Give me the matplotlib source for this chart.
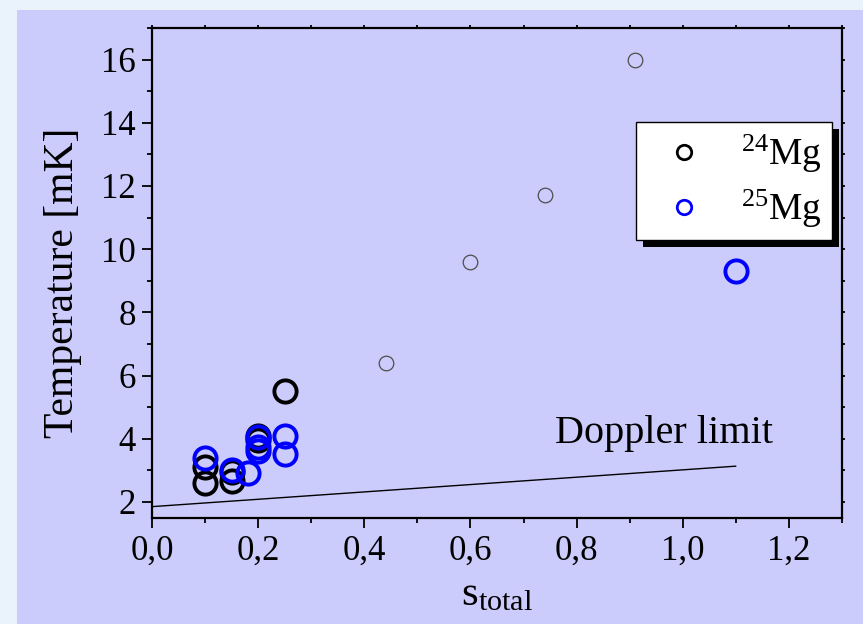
import matplotlib
matplotlib.use("Agg")
import matplotlib.pyplot as plt
import matplotlib.patches as mpatches
from matplotlib.ticker import MultipleLocator, FuncFormatter

plt.rcParams['font.family'] = ['Liberation Serif', 'DejaVu Serif']
plt.rcParams['mathtext.fontset'] = 'custom'
plt.rcParams['mathtext.rm'] = 'Liberation Serif'

# 24Mg, big circles
s24 = [0.10, 0.10, 0.15, 0.15, 0.20, 0.20, 0.25]
T24 = [2.6, 3.1, 2.65, 2.95, 4.1, 3.95, 5.5]
# 25Mg, big blue circles
s25 = [0.10, 0.15, 0.18, 0.20, 0.20, 0.20, 0.25, 0.25, 1.10]
T25 = [3.4, 3.0, 2.9, 4.05, 3.75, 3.6, 4.1, 3.5, 9.3]
# thin grey circles
s_thin = [0.44, 0.60, 0.74, 0.91]
T_thin = [6.4, 9.6, 11.7, 16.0]
# Doppler limit line
s_dop = [0.0, 1.1]
T_dop = [1.85, 3.13]

lav = '#ccccfc'
fig = plt.figure(figsize=(8.63, 6.24), dpi=100, facecolor='#eaf3fc')
fig.patches.append(mpatches.Rectangle((17/863, 0), 1, (624-10)/624, transform=fig.transFigure,
                                      facecolor=lav, edgecolor='none', zorder=-10))
ax = fig.add_axes([0.1765, 0.1704, 0.7988, 0.7847])
ax.set_facecolor(lav)

ax.plot(s_dop, T_dop, color='black', lw=1.0)
ax.plot(s_thin, T_thin, 'o', ms=10.5, mfc='none', mec='#4d4d4d', mew=0.9)
ax.plot(s24, T24, 'o', ms=16, mfc='none', mec='black', mew=2.8, label=r'$\mathregular{^{24}Mg}$')
ax.plot(s25, T25, 'o', ms=16, mfc='none', mec='#0000ff', mew=2.8, label=r'$\mathregular{^{25}Mg}$')

ax.text(0.76, 3.85, 'Doppler limit', fontsize=29, ha='left', va='baseline')

ax.set_xlim(0, 1.3)
ax.set_ylim(1.5, 17)
ax.xaxis.set_major_locator(MultipleLocator(0.2))
ax.xaxis.set_minor_locator(MultipleLocator(0.1))
ax.yaxis.set_major_locator(MultipleLocator(2))
ax.yaxis.set_minor_locator(MultipleLocator(1))
ax.xaxis.set_major_formatter(FuncFormatter(lambda v, p: f'{v:.1f}'.replace('.', ',')))
ax.tick_params(which='major', direction='out', length=7, width=1.3, labelsize=25, pad=5)
ax.tick_params(which='minor', direction='out', length=3.5, width=1.3)
ax.tick_params(which='both', top=True, right=True)
for sp in ax.spines.values():
    sp.set_linewidth(1.6)
# tiny marks on the top and right spines
for t in ax.xaxis.get_major_ticks() + ax.xaxis.get_minor_ticks():
    t.tick2line.set_markersize(2)
for t in ax.yaxis.get_major_ticks() + ax.yaxis.get_minor_ticks():
    t.tick2line.set_markersize(2)

ax.set_xlabel(r'$\mathregular{s_{total}}$', fontsize=31, labelpad=6)
ax.set_ylabel('Temperature [mK]', fontsize=30)
ax.yaxis.set_label_coords(-0.102, 0.48)

leg = ax.legend(loc='upper right', bbox_to_anchor=(0.986, 0.808), fontsize=27, frameon=True,
                fancybox=False, edgecolor='black', framealpha=1, borderpad=0.28,
                labelspacing=0.35, handletextpad=0.5, borderaxespad=0, markerscale=0.65)
leg.get_frame().set_linewidth(1.0)
for h in leg.legend_handles:
    h.set_markeredgewidth(2.0)

fig.canvas.draw()
bb = leg.get_window_extent()
inv = ax.transAxes.inverted()
(x0, y0), (x1, y1) = inv.transform([(bb.x0 + 7, bb.y0 - 7), (bb.x1 + 7, bb.y1 - 7)])
ax.add_artist(mpatches.Rectangle((x0, y0), x1 - x0, y1 - y0, transform=ax.transAxes,
                                 facecolor='black', edgecolor='none', zorder=4.9, clip_on=False))

fig.savefig('out.png', dpi=100, facecolor=fig.get_facecolor())
